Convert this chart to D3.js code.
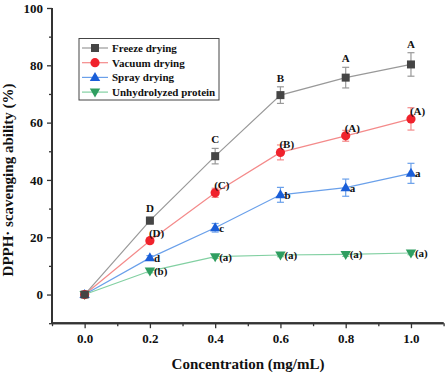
<!DOCTYPE html>
<html><head><meta charset="utf-8">
<script src="https://cdn.jsdelivr.net/npm/d3@7"></script>
<style>body{margin:0;background:#fff}svg{display:block}text{font-family:"Liberation Serif","Times New Roman",serif;font-weight:bold}</style>
</head><body><svg id="c" width="447" height="375"></svg>
<script>
const concentrations = [0, 0.2, 0.4, 0.6, 0.8, 1.0];
const seriesNames = ["Freeze drying", "Vacuum drying", "Spray drying", "Unhydrolyzed protein"];
const freezeValues = [0, 25.8, 48.3, 69.6, 75.7, 80.3];
const freezeErrors = [0.8, 1.2, 2.7, 2.9, 3.6, 4.1];
const freezeLabels = ["", "D", "C", "B", "A", "A"];
const vacuumValues = [0, 18.8, 35.5, 49.6, 55.4, 61.3];
const vacuumErrors = [0.8, 1.0, 1.6, 2.6, 1.9, 3.9];
const vacuumLabels = ["", "(D)", "(C)", "(B)", "(A)", "(A)"];
const sprayValues = [0, 12.8, 23.3, 34.8, 37.3, 42.3];
const sprayErrors = [0.8, 0.8, 1.5, 2.6, 3.0, 3.5];
const sprayLabels = ["", "d", "c", "b", "a", "a"];
const unhydValues = [0, 8.2, 13.2, 13.8, 14.0, 14.5];
const unhydErrors = [0.5, 0.6, 0.6, 0.6, 0.7, 0.6];
const unhydLabels = ["", "(b)", "(a)", "(a)", "(a)", "(a)"];
const xTicks = [0.0, 0.2, 0.4, 0.6, 0.8, 1.0];
const xMinorTicks = [-0.1, 0.1, 0.3, 0.5, 0.7, 0.9, 1.1];
const yTicks = [0, 20, 40, 60, 80, 100];
const yMinorTicks = [-10, 10, 30, 50, 70, 90];

const svg = d3.select("#c");
const x = d3.scaleLinear().domain([-0.1, 1.1]).range([52, 443.6]);
const y = d3.scaleLinear().domain([-10, 100]).range([323.2, 8]);

const series = [
  {name: seriesNames[0], v: freezeValues, e: freezeErrors, lab: freezeLabels, line: "#999", mk: "#454545", shape: "square", lpos: "above"},
  {name: seriesNames[1], v: vacuumValues, e: vacuumErrors, lab: vacuumLabels, line: "#f48a8a", mk: "#f0222c", shape: "circle", lpos: "upright"},
  {name: seriesNames[2], v: sprayValues, e: sprayErrors, lab: sprayLabels, line: "#6aa0ea", mk: "#1a5ed8", shape: "up", lpos: "right"},
  {name: seriesNames[3], v: unhydValues, e: unhydErrors, lab: unhydLabels, line: "#82d0a2", mk: "#2f9e60", shape: "down", lpos: "right"}
];

function marker(g, shape, color, cx, cy) {
  if (shape === "square") g.append("rect").attr("x", cx-4).attr("y", cy-4).attr("width", 8).attr("height", 8).attr("fill", color);
  else if (shape === "circle") g.append("circle").attr("cx", cx).attr("cy", cy).attr("r", 4.6).attr("fill", color);
  else if (shape === "up") g.append("path").attr("d", `M${cx},${cy-5.5}L${cx+5.2},${cy+3.5}L${cx-5.2},${cy+3.5}Z`).attr("fill", color);
  else g.append("path").attr("d", `M${cx},${cy+5.5}L${cx+5.2},${cy-3.5}L${cx-5.2},${cy-3.5}Z`).attr("fill", color);
}

// axes
const yAxis = d3.axisLeft(y).tickValues(yTicks).tickSize(5).tickPadding(4).tickFormat(d3.format("d"));
const yMinor = d3.axisLeft(y).tickValues(yMinorTicks).tickSize(3).tickFormat("");
const xAxis = d3.axisBottom(x).tickValues(xTicks).tickSize(5).tickPadding(6).tickFormat(d3.format(".1f"));
const xMinor = d3.axisBottom(x).tickValues(xMinorTicks).tickSize(3).tickFormat("");

const gyMin = svg.append("g").attr("transform", `translate(${x(-0.1)},0)`).call(yMinor);
const gxMin = svg.append("g").attr("transform", `translate(0,${y(-10)})`).call(xMinor);
const gy = svg.append("g").attr("transform", `translate(${x(-0.1)},0)`).call(yAxis);
const gx = svg.append("g").attr("transform", `translate(0,${y(-10)})`).call(xAxis);
[gx, gy, gxMin, gyMin].forEach(g => {
  g.selectAll(".domain").attr("stroke", "#333").attr("stroke-width", 2);
  g.selectAll(".tick line").attr("stroke", "#333").attr("stroke-width", 1.3);
  g.selectAll("text").attr("font-size", 13).attr("fill", "#111").attr("font-family", "Liberation Serif, serif").attr("font-weight", "bold");
});
[gy, gyMin].forEach(g => g.select(".domain").attr("d", `M0,${y(100)}V${y(-10)}`));
[gx, gxMin].forEach(g => g.select(".domain").attr("d", `M${x(-0.1)},0H${x(1.1)}`));

// lines, error bars, markers
series.forEach(s => {
  const pts = concentrations.map((c, i) => [c, s.v[i]]);
  svg.append("path").datum(pts).attr("fill", "none").attr("stroke", s.line).attr("stroke-width", 1.2)
    .attr("d", d3.line().x(d => x(d[0])).y(d => y(d[1])));
});
series.forEach(s => {
  const g = svg.append("g");
  concentrations.forEach((c, i) => {
    const cx = x(c), top = y(s.v[i] + s.e[i]), bot = y(s.v[i] - s.e[i]);
    g.append("line").attr("x1", cx).attr("x2", cx).attr("y1", top).attr("y2", bot).attr("stroke", s.line).attr("stroke-width", 1.2);
    [top, bot].forEach(yy => g.append("line").attr("x1", cx-3.5).attr("x2", cx+3.5).attr("y1", yy).attr("y2", yy).attr("stroke", s.line).attr("stroke-width", 1.2));
  });
});
series.slice().reverse().forEach(s => {
  const g = svg.append("g");
  concentrations.forEach((c, i) => marker(g, s.shape, s.mk, x(c), y(s.v[i])));
});
// annotations
series.forEach(s => {
  concentrations.forEach((c, i) => {
    if (!s.lab[i]) return;
    const cx = x(c), cy = y(s.v[i]);
    const t = svg.append("text").attr("font-size", 11).attr("fill", "#111").text(s.lab[i]);
    if (s.lpos === "above") t.attr("x", cx).attr("y", y(s.v[i] + s.e[i]) - 5).attr("text-anchor", "middle");
    else if (s.lpos === "upright") t.attr("x", cx - 1).attr("y", cy - 4);
    else t.attr("x", cx + 4).attr("y", cy + 4);
  });
});

// legend
const lg = svg.append("g");
lg.append("rect").attr("x", 79).attr("y", 38.5).attr("width", 140).attr("height", 61.5).attr("fill", "#fff").attr("stroke", "#444").attr("stroke-width", 1);
series.forEach((s, i) => {
  const yy = 48 + i * 14.7;
  lg.append("line").attr("x1", 82).attr("x2", 108).attr("y1", yy).attr("y2", yy).attr("stroke", s.line).attr("stroke-width", 1.2);
  marker(lg, s.shape, s.mk, 95, yy);
  lg.append("text").attr("x", 112).attr("y", yy + 4).attr("font-size", 11).attr("fill", "#111").text(s.name);
});

// titles
svg.append("text").attr("x", 248).attr("y", 369).attr("text-anchor", "middle").attr("font-size", 15).attr("fill", "#111").text("Concentration (mg/mL)");
svg.append("text").attr("transform", "translate(13,180) rotate(-90)").attr("text-anchor", "middle").attr("font-size", 15).attr("fill", "#111").text("DPPH· scavenging ability (%)");
</script></body></html>
